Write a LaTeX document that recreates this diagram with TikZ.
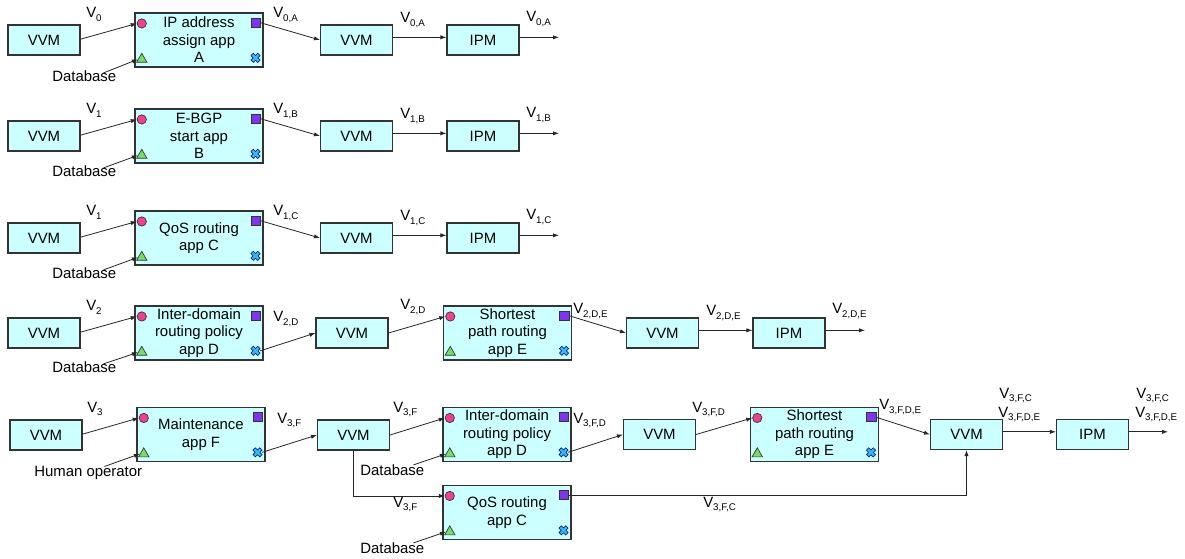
\documentclass[tikz,border=0pt]{standalone}
\usepackage{fontspec}
\setmainfont{Liberation Sans}
\usetikzlibrary{arrows.meta,shapes.geometric}
\definecolor{boxfill}{HTML}{CCFFFF}
\definecolor{pinkc}{HTML}{F0428C}
\definecolor{purpc}{HTML}{8033F0}
\definecolor{greenc}{HTML}{77DD66}
\definecolor{bluex}{HTML}{33BBEE}
\definecolor{edgec}{HTML}{333333}
\newcommand\vsub[1]{\raisebox{-2.4pt}{\fontsize{7.3}{8}\selectfont #1}}
\newcommand\appnode[4]{%
  \node[appbox] (#1) at (#2,#3) {#4};
  \node[pcirc] (#1-c) at ([shift={(7.3,11)}]#1.north west) {};
  \node[psq] (#1-s) at ([shift={(-7.7,10.3)}]#1.north east) {};
  \node[ptri] (#1-t) at ([shift={(7.3,-8.2)}]#1.south west) {};
  \node[pxx] (#1-x) at ([shift={(-8,-9.7)}]#1.south east) {};
  \draw[fill=bluex,draw=blue!50!black,line width=0.4pt,shift={(#1-x)},rotate=45]
    (1.7,4.8) -- (1.7,1.7) -- (4.8,1.7) -- (4.8,-1.7) -- (1.7,-1.7) -- (1.7,-4.8)
    -- (-1.7,-4.8) -- (-1.7,-1.7) -- (-4.8,-1.7) -- (-4.8,1.7) -- (-1.7,1.7) -- (-1.7,4.8) -- cycle;
}
\tikzset{
  box/.style={draw=edgec, fill=boxfill, line width=0.8pt, minimum width=54pt, minimum height=22.5pt, inner sep=0pt},
  appbox/.style={draw=edgec, fill=boxfill, line width=0.8pt, minimum width=96pt, minimum height=40.5pt, inner sep=0pt, align=center},
  pcirc/.style={circle, draw=edgec, fill=pinkc, minimum size=7pt, inner sep=0pt, line width=0.5pt},
  psq/.style={rectangle, draw=edgec, fill=purpc, minimum size=6.8pt, inner sep=0pt, line width=0.5pt},
  ptri/.style={regular polygon, regular polygon sides=3, draw=edgec, fill=greenc, minimum size=9pt, inner sep=0pt, line width=0.5pt},
  pxx/.style={circle, minimum size=6.5pt, inner sep=0pt},
  lbl/.style={anchor=base west, inner sep=0pt},
  conn/.style={draw=black!85, line width=0.6pt, -{Latex[length=4.5pt,width=3.2pt]}},
  up/.style={yshift=2pt}
}
\begin{document}
\begin{tikzpicture}[x=0.75pt,y=-0.75pt,font=\fontsize{11.2}{13.1}\selectfont]
\fill[white] (0,0) rectangle (1185,559);
\useasboundingbox (0,0) rectangle (1185,559);

% ---------- Row 0 ----------
\node[box] (vvm0) at (44,40) {VVM};
\appnode{app0}{199}{40}{IP address\\assign app\\A}
\node[box] (vvm0b) at (356.5,40) {VVM};
\node[box] (ipm0) at (483,40) {IPM};
\coordinate (end0) at (559,40);
\node[lbl] (db0) at (52,82) {Database};
\node[lbl] (l0a) at (86,18) {V\vsub{0}};
\node[lbl] (l0b) at (273,18) {V\vsub{0,A}};
\node[lbl] (l0c) at (400,23) {V\vsub{0,A}};
\node[lbl] (l0d) at (526,22) {V\vsub{0,A}};
\draw[conn] ([yshift=0.6pt]vvm0.east) -- (app0-c.west);
\draw[conn] ([shift={(-13,2)}]db0.north east) -- (app0-t.west);
\draw[conn] (app0-s.east) -- (vvm0b.west);
\draw[conn] ([up]vvm0b.east) -- ([up]ipm0.west);
\draw[conn] ([up]ipm0.east) -- ([up]end0);

% ---------- Row 1 ----------
\node[box] (vvm1) at (44,136) {VVM};
\appnode{app1}{199}{136}{E-BGP\\start app\\B}
\node[box] (vvm1b) at (356.5,136) {VVM};
\node[box] (ipm1) at (483,136) {IPM};
\coordinate (end1) at (559,136);
\node[lbl] (db1) at (52,177) {Database};
\node[lbl] (l1a) at (86,114) {V\vsub{1}};
\node[lbl] (l1b) at (273,114) {V\vsub{1,B}};
\node[lbl] (l1c) at (400,119) {V\vsub{1,B}};
\node[lbl] (l1d) at (526,118) {V\vsub{1,B}};
\draw[conn] ([yshift=0.6pt]vvm1.east) -- (app1-c.west);
\draw[conn] ([shift={(-13,2)}]db1.north east) -- (app1-t.west);
\draw[conn] (app1-s.east) -- (vvm1b.west);
\draw[conn] ([up]vvm1b.east) -- ([up]ipm1.west);
\draw[conn] ([up]ipm1.east) -- ([up]end1);

% ---------- Row 2 ----------
\node[box] (vvm2) at (44,238) {VVM};
\appnode{app2}{199}{238}{QoS routing\\app C}
\node[box] (vvm2b) at (356.5,238) {VVM};
\node[box] (ipm2) at (483,238) {IPM};
\coordinate (end2) at (559,238);
\node[lbl] (db2) at (52,279) {Database};
\node[lbl] (l2a) at (86,216) {V\vsub{1}};
\node[lbl] (l2b) at (273,216) {V\vsub{1,C}};
\node[lbl] (l2c) at (400,221) {V\vsub{1,C}};
\node[lbl] (l2d) at (526,220) {V\vsub{1,C}};
\draw[conn] ([yshift=0.6pt]vvm2.east) -- (app2-c.west);
\draw[conn] ([shift={(-13,2)}]db2.north east) -- (app2-t.west);
\draw[conn] (app2-s.east) -- (vvm2b.west);
\draw[conn] ([up]vvm2b.east) -- ([up]ipm2.west);
\draw[conn] ([up]ipm2.east) -- ([up]end2);

% ---------- Row 3 ----------
\node[box] (vvm3) at (44,333) {VVM};
\appnode{app3d}{199}{333}{Inter-domain\\routing policy\\app D}
\node[box] (vvm3b) at (352,333) {VVM};
\appnode{app3e}{507.5}{333}{Shortest\\path routing\\app E}
\node[box] (vvm3c) at (662.5,333) {VVM};
\node[box] (ipm3) at (789,333) {IPM};
\coordinate (end3) at (865,333);
\node[lbl] (db3) at (52,373) {Database};
\node[lbl] (l3a) at (86,311) {V\vsub{2}};
\node[lbl] (l3b) at (273,322) {V\vsub{2,D}};
\node[lbl] (l3c) at (400,310) {V\vsub{2,D}};
\node[lbl] (l3d) at (573,314) {V\vsub{2,D,E}};
\node[lbl] (l3e) at (706,316) {V\vsub{2,D,E}};
\node[lbl] (l3f) at (832,314) {V\vsub{2,D,E}};
\draw[conn] ([yshift=0.6pt]vvm3.east) -- (app3d-c.west);
\draw[conn] ([shift={(-13,2)}]db3.north east) -- (app3d-t.west);
\draw[conn] (app3d-x.east) -- (vvm3b.west);
\draw[conn] (vvm3b.east) -- (app3e-c.west);
\draw[conn] (app3e-s.east) -- (vvm3c.west);
\draw[conn] ([up]vvm3c.east) -- ([up]ipm3.west);
\draw[conn] ([up]ipm3.east) -- ([up]end3);

% ---------- Row 4 ----------
\node[box] (vvm4) at (46,435) {VVM};
\appnode{app4f}{201}{434.5}{Maintenance\\app F}
\node[box] (vvm4b) at (353.5,435) {VVM};
\appnode{app4d}{507}{434.5}{Inter-domain\\routing policy\\app D}
\appnode{app4c}{507}{512.5}{QoS routing\\app C}
\node[box] (vvm4c) at (659.5,434.5) {VVM};
\appnode{app4e}{814.5}{434.5}{Shortest\\path routing\\app E}
\node[box] (vvm4d) at (966.5,434.5) {VVM};
\node[box] (ipm4) at (1092.5,434.5) {IPM};
\coordinate (end4) at (1168,434.5);
\node[lbl] (hum) at (34,476) {Human operator};
\node[lbl] (db4d) at (360,475) {Database};
\node[lbl] (db4c) at (360,553) {Database};
\node[lbl] (l4a) at (87,412) {V\vsub{3}};
\node[lbl] (l4b) at (277,423) {V\vsub{3,F}};
\node[lbl] (l4c) at (393,412) {V\vsub{3,F}};
\node[lbl] (l4d) at (573,423) {V\vsub{3,F,D}};
\node[lbl] (l4e) at (692,412) {V\vsub{3,F,D}};
\node[lbl] (l4f) at (879,410) {V\vsub{3,F,D,E}};
\node[lbl] (l4g) at (999,398) {V\vsub{3,F,C}};
\node[lbl] (l4h) at (998,417) {V\vsub{3,F,D,E}};
\node[lbl] (l4i) at (1136,398) {V\vsub{3,F,C}};
\node[lbl] (l4j) at (1135,417) {V\vsub{3,F,D,E}};
\node[lbl] (l4k) at (393,507) {V\vsub{3,F}};
\node[lbl] (l4l) at (703,507) {V\vsub{3,F,C}};
\draw[conn] ([yshift=0.6pt]vvm4.east) -- (app4f-c.west);
\draw[conn] ([shift={(-38,1)}]hum.north east) -- (app4f-t.west);
\draw[conn] (app4f-x.east) -- (vvm4b.west);
\draw[conn] (vvm4b.east) -- (app4d-c.west);
\draw[conn] ([shift={(-11,1)}]db4d.north east) -- (app4d-t.west);
\draw[conn] ([shift={(-11,1)}]db4c.north east) -- (app4c-t.west);
\draw[conn] (vvm4b.south) |- (app4c-c.west);
\draw[conn] (app4d-x.east) -- (vvm4c.west);
\draw[conn] (vvm4c.east) -- (app4e-c.west);
\draw[conn] (app4e-s.east) -- (vvm4d.west);
\draw[conn] (app4c-s.east) -| (vvm4d.south);
\draw[conn] ([up]vvm4d.east) -- ([up]ipm4.west);
\draw[conn] ([up]ipm4.east) -- ([up]end4);
\end{tikzpicture}
\end{document}
